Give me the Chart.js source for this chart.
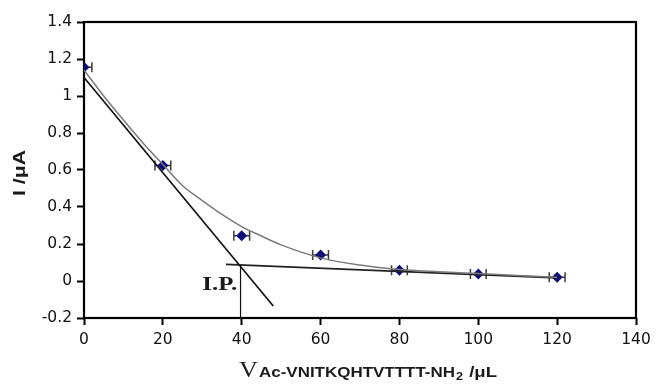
<!DOCTYPE html>
<html>
<head>
<meta charset="utf-8">
<script src="https://cdn.jsdelivr.net/npm/chart.js@4.4.1/dist/chart.umd.min.js"></script>
<style>
html,body{margin:0;padding:0;background:#fff;}
#wrap{width:659px;height:384px;position:relative;}
</style>
</head>
<body>
<div id="wrap"><canvas id="c" width="659" height="384"></canvas></div>
<script>
// measured points
const volumes = [0, 20, 40, 60, 80, 100, 120];
const currents = [1.155, 0.625, 0.245, 0.14, 0.058, 0.038, 0.02];
const volumeErr = [2, 2, 2, 2, 2, 2, 2];
// fitted decay curve
const fitX = [0, 5, 10, 15, 20, 25, 30, 35, 40, 45, 50, 60, 70, 80, 90, 100, 110, 120];
const fitY = [1.14, 1.0, 0.87, 0.745, 0.63, 0.515, 0.435, 0.36, 0.294, 0.243, 0.195, 0.125, 0.086, 0.062, 0.05, 0.04, 0.03, 0.02];
// tangent lines and inflection point
const steepX = [0, 48];
const steepY = [1.10, -0.135];
const flatX = [36, 120];
const flatY = [0.09, 0.017];
const ipX = [39.7, 39.7];
const ipY = [0.087, -0.2];
const ipLabel = "I.P.";
const xTicks = [0, 20, 40, 60, 80, 100, 120, 140];
const yTicks = [-0.2, 0, 0.2, 0.4, 0.6, 0.8, 1, 1.2, 1.4];
const yTitle = "I /\u03bcA";
const xTitleMain = "V";
const xTitleSub = "Ac-VNITKQHTVTTTT-NH";
const xTitleSub2 = "2";
const xTitleTail = " /\u03bcL";

const pts = (xs, ys) => xs.map((x, i) => ({x: x, y: ys[i]}));

function fitText(ctx, text, x, y, w) {
  const m = ctx.measureText(text).width;
  ctx.save();
  ctx.translate(x, y);
  ctx.scale(w / m, 1);
  ctx.fillText(text, 0, 0);
  ctx.restore();
}

const extras = {
  id: 'extras',
  beforeDatasetsDraw(chart) {
    const ctx = chart.ctx, a = chart.chartArea;
    ctx.save();
    ctx.strokeStyle = '#000';
    ctx.lineWidth = 2.2;
    ctx.strokeRect(a.left, a.top, a.right - a.left, a.bottom - a.top);
    ctx.restore();
  },
  beforeDatasetDraw(chart, args) {
    if (args.index !== 4) return;
    const ctx = chart.ctx, xs = chart.scales.x, ys = chart.scales.y, a = chart.chartArea;
    ctx.save();
    ctx.beginPath();
    ctx.rect(a.left, a.top, a.right - a.left, a.bottom - a.top);
    ctx.clip();
    ctx.strokeStyle = '#3a3a3a';
    ctx.lineWidth = 1.5;
    volumes.forEach((v, i) => {
      const y = ys.getPixelForValue(currents[i]);
      const x1 = xs.getPixelForValue(v - volumeErr[i]);
      const x2 = xs.getPixelForValue(v + volumeErr[i]);
      ctx.beginPath();
      ctx.moveTo(x1, y); ctx.lineTo(x2, y);
      ctx.moveTo(x1, y - 5); ctx.lineTo(x1, y + 5);
      ctx.moveTo(x2, y - 5); ctx.lineTo(x2, y + 5);
      ctx.stroke();
    });
    ctx.restore();
  },
  afterDraw(chart) {
    const ctx = chart.ctx, xs = chart.scales.x, ys = chart.scales.y;
    ctx.save();
    ctx.fillStyle = '#1a1a1a';
    // I.P. label
    ctx.font = 'bold 19px "Liberation Serif", "Times New Roman", serif';
    ctx.textAlign = 'left';
    ctx.textBaseline = 'alphabetic';
    fitText(ctx, ipLabel, xs.getPixelForValue(30.0), ys.getPixelForValue(-0.05), 35);
    // x title
    const base = 377;
    ctx.font = '23px "Liberation Serif", "Times New Roman", serif';
    fitText(ctx, xTitleMain, 239, base, 19);
    ctx.font = 'bold 14px "Liberation Sans", Arial, sans-serif';
    fitText(ctx, xTitleSub, 259, base, 196);
    ctx.font = 'bold 10px "Liberation Sans", Arial, sans-serif';
    fitText(ctx, xTitleSub2, 456, base + 3, 7);
    ctx.font = 'bold 14px "Liberation Sans", Arial, sans-serif';
    fitText(ctx, xTitleTail, 464, base, 33);
    // y title
    ctx.save();
    ctx.translate(25, 196);
    ctx.rotate(-Math.PI / 2);
    ctx.font = 'bold 17px "Liberation Sans", Arial, sans-serif';
    fitText(ctx, yTitle, 0, 0, 46);
    ctx.restore();
    ctx.restore();
  }
};

const tickFont = {family: '"DejaVu Sans", "Liberation Sans", Arial, sans-serif', size: 15.5};

new Chart(document.getElementById('c'), {
  type: 'scatter',
  data: {
    datasets: [
      {type: 'line', data: pts(fitX, fitY), borderColor: '#7a7a7a', borderWidth: 1.5, pointRadius: 0, cubicInterpolationMode: 'monotone', fill: false},
      {type: 'line', data: pts(steepX, steepY), borderColor: '#111', borderWidth: 1.7, pointRadius: 0, fill: false},
      {type: 'line', data: pts(flatX, flatY), borderColor: '#222', borderWidth: 1.7, pointRadius: 0, fill: false},
      {type: 'line', data: pts(ipX, ipY), borderColor: '#111', borderWidth: 1.2, pointRadius: 0, fill: false},
      {type: 'scatter', data: pts(volumes, currents), pointStyle: 'rectRot', pointRadius: 5.5, backgroundColor: '#0c0c7a', borderColor: '#0c0c7a', borderWidth: 0}
    ]
  },
  options: {
    responsive: false,
    animation: false,
    events: [],
    layout: {padding: {left: 8, top: 22, right: 23, bottom: 0}},
    plugins: {legend: {display: false}, tooltip: {enabled: false}, title: {display: false}},
    scales: {
      x: {
        type: 'linear', min: 0, max: 140,
        afterBuildTicks: s => { s.ticks = xTicks.map(v => ({value: v})); },
        afterFit: s => { s.height = 66; },
        border: {display: false},
        grid: {display: true, drawOnChartArea: false, drawTicks: true, tickLength: 7, tickWidth: 2, tickColor: '#000'},
        ticks: {color: '#111', font: tickFont, padding: 6, maxRotation: 0, callback: v => String(v)}
      },
      y: {
        type: 'linear', min: -0.2, max: 1.4,
        afterBuildTicks: s => { s.ticks = yTicks.map(v => ({value: v})); },
        afterFit: s => { s.width = 76; },
        border: {display: false},
        grid: {display: true, drawOnChartArea: false, drawTicks: true, tickLength: 7, tickWidth: 2, tickColor: '#000'},
        ticks: {color: '#111', font: tickFont, padding: 5, callback: v => String(+(+v).toFixed(1))}
      }
    }
  },
  plugins: [extras]
});
</script>
</body>
</html>
